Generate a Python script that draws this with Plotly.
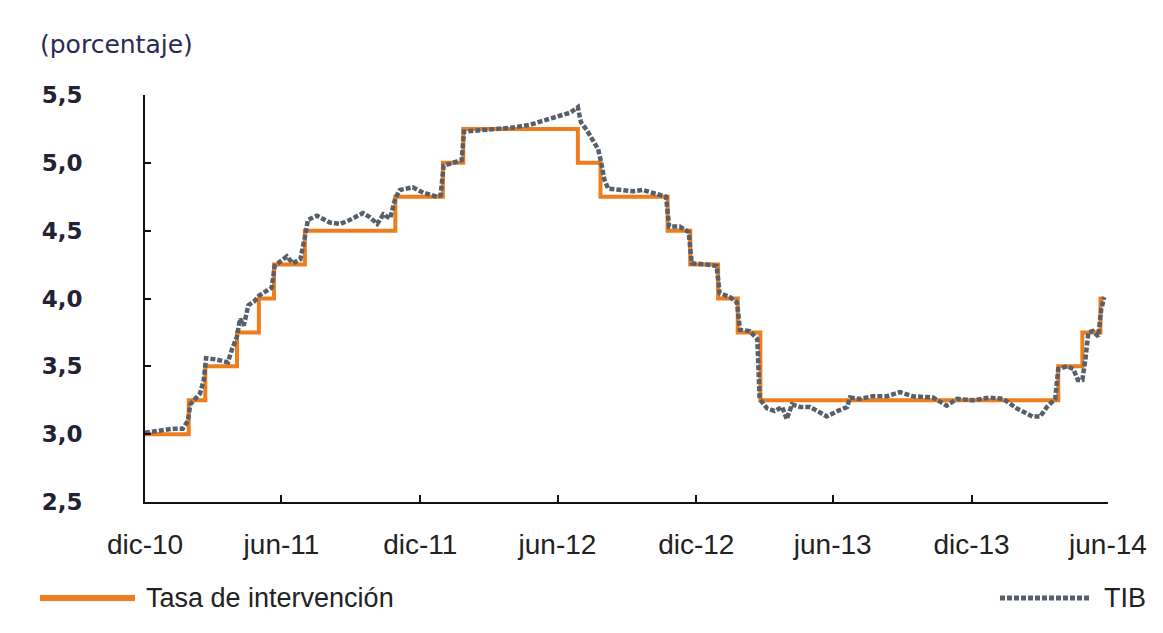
import plotly.graph_objects as go

# Tasa de intervención (policy rate) – step changes
policy_dates = ["2011-01-01", "2011-02-28", "2011-03-22", "2011-05-03", "2011-06-01",
                "2011-06-21", "2011-08-01", "2011-11-29", "2012-01-31", "2012-02-27",
                "2012-07-28", "2012-08-27", "2012-11-24", "2012-12-24", "2013-01-30",
                "2013-02-25", "2013-03-27", "2014-04-26", "2014-05-28", "2014-06-21",
                "2014-06-26"]
policy_values = [3.00, 3.25, 3.50, 3.75, 4.00,
                 4.25, 4.50, 4.75, 5.00, 5.25,
                 5.00, 4.75, 4.50, 4.25, 4.00,
                 3.75, 3.25, 3.50, 3.75, 4.00,
                 4.00]

# TIB (interbank rate)
tib_dates = ["2011-01-01", "2011-01-21", "2011-02-06", "2011-02-20", "2011-02-27", "2011-03-02",
             "2011-03-08", "2011-03-15", "2011-03-20", "2011-03-23", "2011-04-06", "2011-04-21",
             "2011-04-26", "2011-05-03", "2011-05-07", "2011-05-12", "2011-05-18", "2011-05-26",
             "2011-06-01", "2011-06-09", "2011-06-18", "2011-06-22", "2011-06-30", "2011-07-08",
             "2011-07-16", "2011-07-26", "2011-08-01", "2011-08-05", "2011-08-17", "2011-09-03",
             "2011-09-17", "2011-09-30", "2011-10-17", "2011-10-26", "2011-11-05", "2011-11-13",
             "2011-11-22", "2011-11-29", "2011-12-05", "2011-12-22", "2012-01-05", "2012-01-23",
             "2012-01-28", "2012-02-01", "2012-02-19", "2012-02-25", "2012-02-28", "2012-03-20",
             "2012-04-12", "2012-05-03", "2012-05-25", "2012-06-17", "2012-07-04", "2012-07-18",
             "2012-07-28", "2012-08-01", "2012-08-09", "2012-08-17", "2012-08-24", "2012-08-28",
             "2012-09-01", "2012-09-06", "2012-09-22", "2012-10-09", "2012-10-22", "2012-11-07",
             "2012-11-22", "2012-11-26", "2012-12-10", "2012-12-22", "2012-12-26", "2013-01-15",
             "2013-01-28", "2013-02-01", "2013-02-15", "2013-02-24", "2013-02-28", "2013-03-13",
             "2013-03-23", "2013-03-26", "2013-04-05", "2013-04-15", "2013-04-25", "2013-05-01",
             "2013-05-08", "2013-05-19", "2013-06-01", "2013-06-11", "2013-06-23", "2013-07-07",
             "2013-07-20", "2013-07-24", "2013-08-06", "2013-08-23", "2013-09-11", "2013-09-28",
             "2013-10-15", "2013-11-11", "2013-11-29", "2013-12-13", "2014-01-03", "2014-01-25",
             "2014-02-12", "2014-03-02", "2014-03-23", "2014-04-02", "2014-04-11", "2014-04-22",
             "2014-04-26", "2014-05-08", "2014-05-16", "2014-05-22", "2014-05-28", "2014-06-01",
             "2014-06-05", "2014-06-11", "2014-06-18", "2014-06-22", "2014-06-26"]
tib_values = [3.01, 3.03, 3.04, 3.04, 3.10, 3.22,
              3.26, 3.30, 3.40, 3.56, 3.55, 3.53,
              3.62, 3.72, 3.85, 3.80, 3.95, 3.98,
              4.02, 4.05, 4.08, 4.24, 4.28, 4.31,
              4.26, 4.29, 4.45, 4.58, 4.61, 4.56,
              4.55, 4.58, 4.63, 4.60, 4.55, 4.62,
              4.59, 4.74, 4.80, 4.82, 4.78, 4.75,
              4.76, 4.98, 5.01, 5.02, 5.23, 5.24,
              5.25, 5.26, 5.28, 5.32, 5.35, 5.37,
              5.41, 5.30, 5.24, 5.17, 5.10, 5.00,
              4.88, 4.81, 4.80, 4.79, 4.80, 4.77,
              4.75, 4.53, 4.53, 4.49, 4.26, 4.25,
              4.24, 4.04, 4.01, 3.97, 3.77, 3.76,
              3.70, 3.26, 3.19, 3.17, 3.20, 3.11,
              3.22, 3.20, 3.20, 3.17, 3.13, 3.17,
              3.20, 3.27, 3.26, 3.28, 3.28, 3.31,
              3.28, 3.27, 3.21, 3.26, 3.25, 3.27,
              3.26, 3.19, 3.13, 3.13, 3.20, 3.26,
              3.48, 3.50, 3.48, 3.40, 3.40, 3.55,
              3.75, 3.76, 3.72, 3.92, 4.01]

tick_dates = ["2011-01-01", "2011-07-01", "2012-01-01", "2012-07-01",
              "2013-01-01", "2013-07-01", "2014-01-01", "2014-07-01"]
tick_labels = ["dic-10", "jun-11", "dic-11", "jun-12", "dic-12", "jun-13", "dic-13", "jun-14"]
y_ticks = [2.5, 3.0, 3.5, 4.0, 4.5, 5.0, 5.5]

ORANGE = "#EE7D1E"
GRAY = "#56606C"
TXT = "#222222"
SANS = "Liberation Sans, Arial, sans-serif"

# page body has an 8px margin: plot area spans x 145..1108, y 95..502 in the window
L, T, PW, PH = 137, 87, 963, 407

fig = go.Figure()
fig.add_trace(go.Scatter(x=policy_dates, y=policy_values, mode="lines",
                         line=dict(color=ORANGE, width=4, shape="hv"),
                         name="Tasa de intervención", showlegend=False))
fig.add_trace(go.Scatter(x=tib_dates, y=tib_values, mode="lines",
                         line=dict(color=GRAY, width=4.5, dash="5px,2px"),
                         name="TIB", showlegend=False))

fig.update_layout(
    width=1155, height=625,
    margin=dict(l=L, r=1155 - L - PW, t=T, b=625 - T - PH),
    paper_bgcolor="white", plot_bgcolor="white",
    separators=",.",
    xaxis=dict(type="date", range=["2011-01-01", "2014-07-01"],
               tickmode="array", tickvals=tick_dates, ticktext=tick_labels,
               showgrid=False, zeroline=False,
               showline=True, linecolor="#111111", linewidth=2,
               ticks="inside", ticklen=7, tickwidth=2, tickcolor="#111111",
               ticklabelstandoff=16,
               tickfont=dict(family=SANS, size=28, color=TXT)),
    yaxis=dict(range=[2.5, 5.5], tickmode="array", tickvals=y_ticks,
               tickformat=".1f",
               showgrid=False, zeroline=False,
               showline=True, linecolor="#111111", linewidth=2,
               ticks="inside", ticklen=6, tickwidth=2, tickcolor="#111111",
               ticklabelstandoff=56,
               tickfont=dict(family="DejaVu Sans", size=23, color="#222233", weight="bold")),
)

def px(xw):
    return (xw - 8 - L) / PW

def py(yw):
    return 1 - (yw - 8 - T) / PH

# Title
fig.add_annotation(text="(porcentaje)", xref="paper", yref="paper",
                   x=px(38), y=py(45), xanchor="left", yanchor="middle",
                   showarrow=False,
                   font=dict(family="DejaVu Sans", size=25, color="#2A2A50"))

# Legend (left: orange line; right: dotted gray)
fig.add_shape(type="line", xref="paper", yref="paper",
              x0=px(40), x1=px(135), y0=py(598), y1=py(598),
              line=dict(color=ORANGE, width=6))
fig.add_annotation(text="Tasa de intervención", xref="paper", yref="paper",
                   x=px(144), y=py(598), xanchor="left", yanchor="middle",
                   showarrow=False, font=dict(family=SANS, size=27, color=TXT))
fig.add_shape(type="line", xref="paper", yref="paper",
              x0=px(1000), x1=px(1090), y0=py(598), y1=py(598),
              line=dict(color=GRAY, width=5, dash="5px,2px"))
fig.add_annotation(text="TIB", xref="paper", yref="paper",
                   x=px(1102), y=py(598), xanchor="left", yanchor="middle",
                   showarrow=False, font=dict(family=SANS, size=27, color=TXT))

fig.write_html("out.html")
